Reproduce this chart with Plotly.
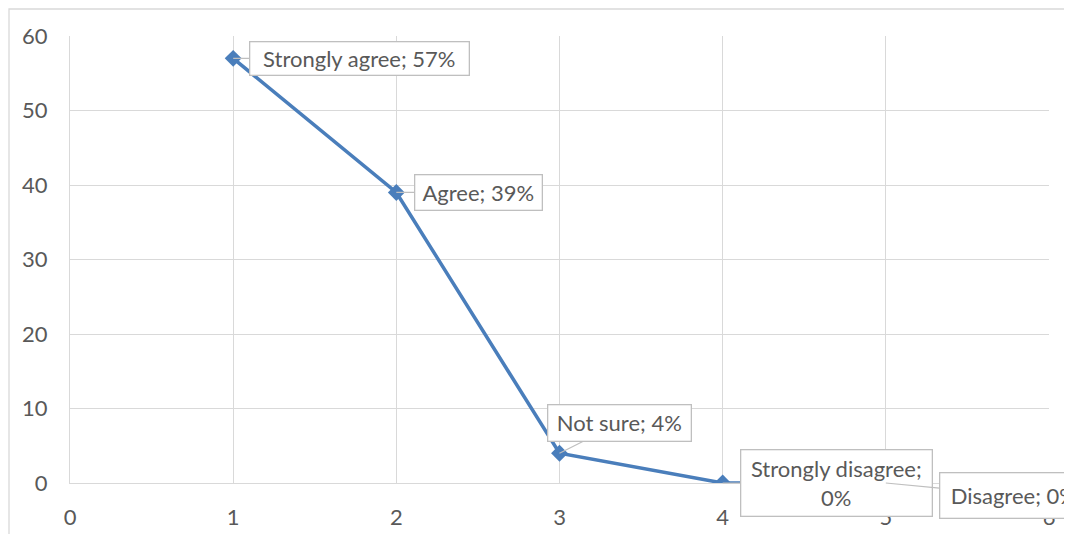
import plotly.graph_objects as go

categories = ["Strongly agree", "Agree", "Not sure", "Strongly disagree", "Disagree"]
x_vals = [1, 2, 3, 4, 5]
y_vals = [57, 39, 4, 0, 0]
x_ticks = [0, 1, 2, 3, 4, 5, 6]
y_ticks = [0, 10, 20, 30, 40, 50, 60]

# label placement (pixel offsets of label centre from point, box size)
label_ax = [126, 82, 60, 114, 128]
label_ay = [0, 0, -30, 0, 12]
box_w = [214, 122, 138, 186, 143]
box_h = [28, 30, 31, 61, 40]
wrap = [False, False, False, True, False]

GRID = "#d9d9d9"
TXT = "#595959"
LINE = "#4a7ebb"
FONT = "Lato, Open Sans, sans-serif"
FS = 22

fig = go.Figure()
fig.add_trace(go.Scatter(
    x=x_vals, y=y_vals, mode="lines+markers",
    line=dict(color=LINE, width=3.5),
    marker=dict(symbol="diamond", size=13, color=LINE),
    hoverinfo="skip", showlegend=False,
))

for i, (c, xv, yv) in enumerate(zip(categories, x_vals, y_vals)):
    sep = "<br>" if wrap[i] else " "
    fig.add_annotation(
        x=xv, y=yv, xref="x", yref="y",
        text=f"{c};{sep}{yv}%",
        showarrow=True, arrowhead=0, arrowwidth=1.2, arrowcolor="#bfbfbf",
        ax=label_ax[i], ay=label_ay[i], axref="pixel", ayref="pixel",
        bgcolor="white", bordercolor="#bfbfbf", borderwidth=1.3, borderpad=2,
        width=box_w[i], height=box_h[i], align="center", valign="middle",
        font=dict(family=FONT, size=FS, color=TXT),
    )

# chart-area border
fig.add_shape(type="rect", xref="paper", yref="paper",
              x0=-0.0623, x1=1.2, y0=-0.5, y1=1.0604,
              line=dict(color=GRID, width=1.3), fillcolor="rgba(0,0,0,0)", layer="below")

fig.update_layout(
    width=1072, height=526,
    autosize=False,
    margin=dict(l=62, r=31, t=28, b=51, autoexpand=False),
    paper_bgcolor="white", plot_bgcolor="white",
    font=dict(family=FONT, size=FS, color=TXT),
    xaxis=dict(range=[0, 6], tickvals=x_ticks, showgrid=True, gridcolor=GRID, gridwidth=1.3,
               zeroline=False, showline=True, linecolor=GRID, linewidth=1.3, automargin=False,
               ticks="", ticklabelstandoff=14, tickfont=dict(size=FS, color=TXT)),
    yaxis=dict(range=[0, 60], tickvals=y_ticks, showgrid=True, gridcolor=GRID, gridwidth=1.3,
               zeroline=False, showline=True, linecolor=GRID, linewidth=1.3, automargin=False,
               ticks="", ticklabelstandoff=17, tickfont=dict(size=FS, color=TXT)),
)

fig.write_html("out.html")
